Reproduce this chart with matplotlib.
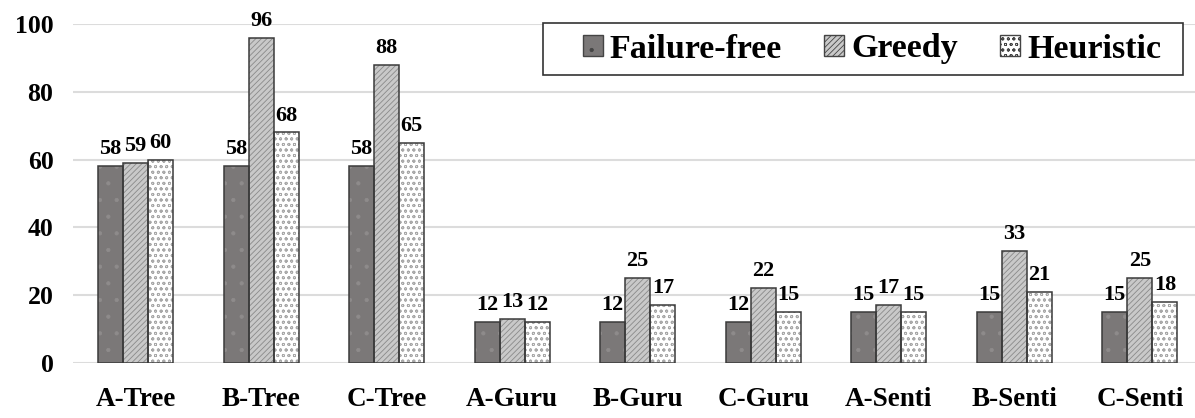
import numpy as np
import matplotlib.pyplot as plt
from matplotlib.patches import Rectangle

plt.rcParams['font.family'] = ['Liberation Serif', 'DejaVu Serif']
plt.rcParams['font.weight'] = 'bold'
plt.rcParams['hatch.linewidth'] = 0.6

categories = ['A-Tree', 'B-Tree', 'C-Tree', 'A-Guru', 'B-Guru', 'C-Guru',
              'A-Senti', 'B-Senti', 'C-Senti']
failure_free = [58, 58, 58, 12, 12, 12, 15, 15, 15]
greedy = [59, 96, 88, 13, 25, 22, 17, 33, 25]
heuristic = [60, 68, 65, 12, 17, 15, 15, 21, 18]

series = [
    ('Failure-free', failure_free, '#7b7878', '.', '#8e8b8b'),
    ('Greedy', greedy, '#c9c9c9', '//////', '#8a8a8a'),
    ('Heuristic', heuristic, '#ffffff', 'ooo', '#a8a8a8'),
]

fig = plt.figure(figsize=(11.95, 4.18), dpi=100)
ax = fig.add_axes([0.061, 0.1316, 0.939, 0.811])

x = np.arange(len(categories))
w = 0.2
handles = []
for i, (name, vals, fc, hatch, hc) in enumerate(series):
    pos = x + (i - 1) * w
    ax.bar(pos, vals, w, color=fc, hatch=hatch, edgecolor=hc, linewidth=0, zorder=2)
    ax.bar(pos, vals, w, fill=False, edgecolor='#3a3a3a', linewidth=1.1, zorder=3)
    for p, v in zip(pos, vals):
        ax.annotate(str(v), (p, v), xytext=(0, 5), textcoords='offset points',
                    ha='center', va='bottom', fontsize=16, fontweight='bold',
                    annotation_clip=False)
    # legend swatch: hatched fill plus dark outline
    handles.append(Rectangle((0, 0), 1, 1, facecolor=fc, hatch=hatch,
                             edgecolor='#444444', linewidth=1.0))

ax.set_xlim(-0.5, 8.44)
ax.set_ylim(0, 100)
ax.set_yticks(range(0, 101, 20))
ax.set_xticks(x)
ax.set_xticklabels(categories, fontsize=19.5, fontweight='bold')
ax.tick_params(axis='y', labelsize=18.5, length=0, pad=14)
ax.tick_params(axis='x', length=0, pad=17.5)
for s in ax.spines.values():
    s.set_visible(False)
ax.grid(axis='y', color='#dcdcdc', linewidth=1.5, zorder=0)
ax.set_axisbelow(True)

# legend frame drawn separately so the padding can be uneven like the original
ax.add_patch(Rectangle((543 / 1195, 1 - 75 / 418), 640 / 1195, 52 / 418,
                       transform=fig.transFigure, facecolor='white', clip_on=False,
                       edgecolor='#333333', linewidth=1.2, zorder=5))
leg = ax.legend(handles, [s[0] for s in series], ncol=3, loc='center left',
                bbox_to_anchor=(583 / 1195, 1 - 49 / 418), bbox_transform=fig.transFigure,
                fontsize=24.5, frameon=False,
                handlelength=0.59, handleheight=0.56, handletextpad=0.2,
                columnspacing=1.24, borderpad=0, borderaxespad=0)
leg.set_zorder(6)

fig.savefig('out.png', dpi=100)
